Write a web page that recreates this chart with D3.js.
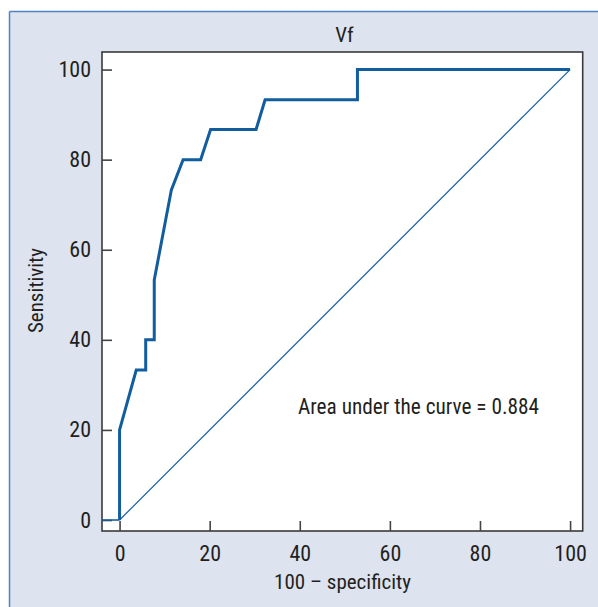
<!DOCTYPE html>
<html><head><meta charset="utf-8">
<script src="https://cdn.jsdelivr.net/npm/d3@7"></script>
<style>
html,body{margin:0;padding:0;background:#fff;}
text{font-family:"Liberation Sans Narrow","Roboto Condensed","DejaVu Sans Condensed",Roboto,sans-serif;fill:#231f20;}
</style></head>
<body><svg id="c" width="598" height="607"></svg>
<script>
const title = "Vf";
const xLabel = "100 \u2013 specificity";
const yLabel = "Sensitivity";
const annotation = "Area under the curve = 0.884";
const xTicks = [0, 20, 40, 60, 80, 100];
const yTicks = [0, 20, 40, 60, 80, 100];
const falsePositive = [0, 0, 3.7, 5.8, 5.8, 7.7, 7.7, 11.5, 14.1, 18.0, 20.2, 30.3, 32.3, 52.8, 52.8, 100];
const sensitivity   = [0, 20, 33.3, 33.3, 40, 40, 53.3, 73.3, 80, 80, 86.7, 86.7, 93.3, 93.3, 100, 100];
const diagonal = [[0, 0], [100, 100]];

const svg = d3.select("#c");
const W = 598, H = 607;
svg.append("rect").attr("x", 9.5).attr("y", 11.5).attr("width", W).attr("height", H).attr("fill", "#dde3ef");
svg.append("line").attr("x1", 9.5).attr("x2", 9.5).attr("y1", 11.5).attr("y2", H).attr("stroke", "#4f83c2").attr("stroke-width", 1.5);
svg.append("line").attr("x1", 9.5).attr("x2", W).attr("y1", 11.5).attr("y2", 11.5).attr("stroke", "#4f83c2").attr("stroke-width", 1.5);

const L = 102, R = 582.7, T = 52, B = 531;
const x = d3.scaleLinear().domain([-3.9, 102.8]).range([L, R]);
const y = d3.scaleLinear().domain([-2.44, 103.9]).range([B, T]);

svg.append("rect").attr("x", L).attr("y", T).attr("width", R - L).attr("height", B - T)
  .attr("fill", "#fff").attr("stroke", "#3a3a3a").attr("stroke-width", 1.6);

const gx = svg.append("g").attr("transform", `translate(0,${B})`)
  .call(d3.axisBottom(x).tickValues(xTicks).tickSizeInner(-10).tickSizeOuter(0).tickPadding(14));
const gy = svg.append("g").attr("transform", `translate(${L},0)`)
  .call(d3.axisLeft(y).tickValues(yTicks).tickSizeInner(-10).tickSizeOuter(0).tickPadding(11));
[gx, gy].forEach(g => {
  g.select(".domain").remove();
  g.selectAll(".tick line").attr("stroke", "#444").attr("stroke-width", 1.6);
  g.selectAll(".tick text").style("font-size", "22px").attr("fill", "#231f20");
});

svg.append("line").attr("x1", x(-3.9)).attr("x2", x(0)).attr("y1", y(0)).attr("y2", y(0))
  .attr("stroke", "#1a5e9e").attr("stroke-width", 1.6);
svg.append("path").datum(diagonal)
  .attr("d", d3.line().x(d => x(d[0])).y(d => y(d[1])))
  .attr("fill", "none").attr("stroke", "#1a5e9e").attr("stroke-width", 1.2);

const pts = falsePositive.map((v, i) => [v, sensitivity[i]]);
svg.append("path").datum(pts)
  .attr("d", d3.line().x(d => x(d[0])).y(d => y(d[1])))
  .attr("fill", "none").attr("stroke", "#115d9e").attr("stroke-width", 3).attr("stroke-linejoin", "miter");

svg.append("text").attr("x", (L + R) / 2 + 2).attr("y", 42).attr("text-anchor", "middle").style("font-size", "21px").text(title);
svg.append("text").attr("x", 342.5).attr("y", 589).attr("text-anchor", "middle").style("font-size", "21px").text(xLabel);
svg.append("text").attr("transform", "translate(43,290.5) rotate(-90)").attr("text-anchor", "middle").style("font-size", "21px").text(yLabel);
svg.append("text").attr("x", 298).attr("y", 414).style("font-size", "21.3px").text(annotation);
</script></body></html>
